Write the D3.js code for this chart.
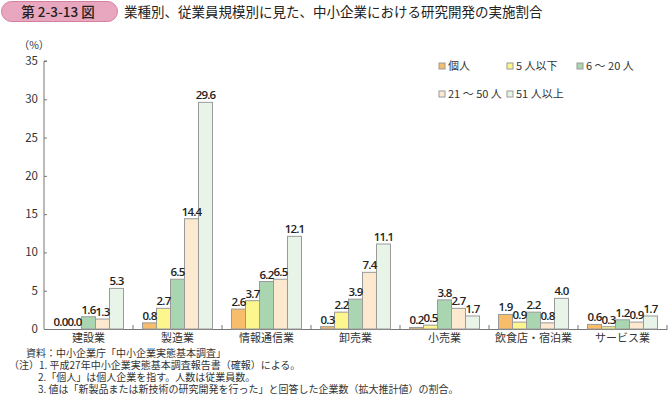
<!DOCTYPE html>
<html>
<head>
<meta charset="utf-8">
<script src="https://cdn.jsdelivr.net/npm/d3@7"></script>
<style>
  body { margin: 0; background: #fff; }
  svg { font-family: "Noto Sans CJK JP", "Noto Sans", sans-serif; }
</style>
</head>
<body>
<div id="chart"></div>
<script>
var categories = ["建設業", "製造業", "情報通信業", "卸売業", "小売業", "飲食店・宿泊業", "サービス業"];
var seriesNames = ["個人", "5 人以下", "6 ～ 20 人", "21 ～ 50 人", "51 人以上"];
var seriesColors = ["#f8bd6a", "#fdf58e", "#a9d6b1", "#fde9d0", "#e9f4e9"];
var kojin = [0.0, 0.8, 2.6, 0.3, 0.2, 1.9, 0.6];
var under5 = [0.0, 2.7, 3.7, 2.2, 0.5, 0.9, 0.3];
var from6to20 = [1.6, 6.5, 6.2, 3.9, 3.8, 2.2, 1.2];
var from21to50 = [1.3, 14.4, 6.5, 7.4, 2.7, 0.8, 0.9];
var over51 = [5.3, 29.6, 12.1, 11.1, 1.7, 4.0, 1.7];
var yTicks = [0, 5, 10, 15, 20, 25, 30, 35];
var notes = [
    "資料：中小企業庁「中小企業実態基本調査」",
    "（注）1. 平成27年中小企業実態基本調査報告書（確報）による。",
    "2.「個人」は個人企業を指す。人数は従業員数。",
    "3. 値は「新製品または新技術の研究開発を行った」と回答した企業数（拡大推計値）の割合。"
];

function init()
{
    var w = 669;
    var h = 396;
    var series = [kojin, under5, from6to20, from21to50, over51];

    var svg = d3.select("#chart")
                .append("svg")
                .attr("width", w)
                .attr("height", h);

    // title badge
    svg.append("rect")
       .attr("x", 1.5).attr("y", 1.5)
       .attr("width", 116).attr("height", 20)
       .attr("rx", 10)
       .attr("fill", "#e9a7bf")
       .attr("stroke", "#d47f9e");
    svg.append("text")
       .attr("x", 58).attr("y", 16.5)
       .attr("text-anchor", "middle")
       .attr("font-size", "13.5px")
       .attr("font-weight", "500")
       .attr("fill", "#222")
       .text("第 2-3-13 図");
    svg.append("text")
       .attr("x", 124).attr("y", 16.5)
       .attr("font-size", "13.5px")
       .attr("fill", "#222")
       .text("業種別、従業員規模別に見た、中小企業における研究開発の実施割合");

    var xScale = d3.scaleBand()
                   .domain(categories)
                   .range([44, 667])
                   .paddingInner(0)
                   .paddingOuter(0);

    var xInner = d3.scaleBand()
                   .domain(d3.range(series.length))
                   .range([0, xScale.bandwidth()])
                   .paddingInner(0)
                   .paddingOuter(0.68);

    var yScale = d3.scaleLinear()
                   .domain([0, 35])
                   .range([329, 61]);

    // y axis
    var yAxis = d3.axisRight(yScale)
                  .tickValues(yTicks)
                  .tickSize(3)
                  .tickFormat("");
    var gy = svg.append("g")
                .attr("transform", "translate(44,0)")
                .call(yAxis);
    gy.selectAll("path, line").attr("stroke", "#777");
    gy.select(".domain").attr("d", "M3," + yScale(35) + "H0V" + yScale(0));

    svg.selectAll(".ylab")
       .data(yTicks)
       .enter()
       .append("text")
       .attr("class", "ylab")
       .attr("x", 38)
       .attr("y", function(d) { return yScale(d) + 4; })
       .attr("text-anchor", "end")
       .attr("font-size", "11.5px")
       .attr("fill", "#333")
       .text(function(d) { return d; });

    svg.append("text")
       .attr("x", 34).attr("y", 49)
       .attr("text-anchor", "middle")
       .attr("font-size", "10.5px")
       .attr("fill", "#333")
       .text("（%）");

    // x axis
    var xAxis = d3.axisTop(xScale).tickSize(0).tickFormat("");
    var gx = svg.append("g")
                .attr("transform", "translate(0," + yScale(0) + ")")
                .call(xAxis);
    gx.select(".domain").attr("stroke", "#777");
    gx.selectAll(".sep")
      .data(categories)
      .enter()
      .append("line")
      .attr("class", "sep")
      .attr("x1", function(d) { return xScale(d) + xScale.bandwidth(); })
      .attr("x2", function(d) { return xScale(d) + xScale.bandwidth(); })
      .attr("y1", 0).attr("y2", -4)
      .attr("stroke", "#777");

    svg.selectAll(".xlab")
       .data(categories)
       .enter()
       .append("text")
       .attr("class", "xlab")
       .attr("x", function(d) { return xScale(d) + xScale.bandwidth() / 2; })
       .attr("y", 342)
       .attr("text-anchor", "middle")
       .attr("font-size", "11px")
       .attr("fill", "#333")
       .text(function(d) { return d; });

    // flat list of bar records
    var records = [];
    series.forEach(function(vals, s) {
        vals.forEach(function(v, i) {
            records.push({ s: s, c: categories[i], v: v });
        });
    });

    // bars first, labels after so labels sit on top
    svg.selectAll(".bar")
       .data(records.filter(function(d) { return d.v > 0; }))
       .enter()
       .append("rect")
       .attr("class", "bar")
       .attr("x", function(d) { return xScale(d.c) + xInner(d.s); })
       .attr("y", function(d) { return yScale(d.v); })
       .attr("width", xInner.bandwidth())
       .attr("height", function(d) { return yScale(0) - yScale(d.v); })
       .attr("fill", function(d) { return seriesColors[d.s]; })
       .attr("stroke", "#9a9a9a")
       .attr("stroke-width", 1);

    svg.selectAll(".val")
       .data(records)
       .enter()
       .append("text")
       .attr("class", "val")
       .attr("x", function(d) { return xScale(d.c) + xInner(d.s) + xInner.bandwidth() / 2; })
       .attr("y", function(d) { return yScale(d.v) - 3; })
       .attr("text-anchor", "middle")
       .attr("font-family", "'Open Sans', sans-serif")
       .attr("font-size", "11.5px")
       .attr("font-weight", "600")
       .attr("letter-spacing", "-0.8px")
       .attr("fill", "#222")
       .text(function(d) { return d.v.toFixed(1); });

    // legend
    var legendPos = [[439, 66], [507, 66], [577, 66], [439, 94], [507, 94]];
    var legend = svg.selectAll(".leg")
                    .data(seriesNames)
                    .enter()
                    .append("g")
                    .attr("class", "leg")
                    .attr("transform", function(d, i) {
                        return "translate(" + legendPos[i][0] + "," + legendPos[i][1] + ")";
                    });
    legend.append("rect")
          .attr("x", 0).attr("y", -3)
          .attr("width", 6).attr("height", 6)
          .attr("fill", function(d, i) { return seriesColors[i]; })
          .attr("stroke", "#9a9a9a");
    legend.append("text")
          .attr("x", 9).attr("y", 4)
          .attr("font-size", "11px")
          .attr("fill", "#333")
          .text(function(d) { return d; });

    // notes
    var noteX = [26, 9, 38, 38];
    svg.selectAll(".note")
       .data(notes)
       .enter()
       .append("text")
       .attr("class", "note")
       .attr("x", function(d, i) { return noteX[i]; })
       .attr("y", function(d, i) { return 356.5 + i * 12.2; })
       .attr("font-size", "10px")
       .attr("fill", "#333")
       .text(function(d) { return d; });
}
window.onload = init;
</script>
</body>
</html>
